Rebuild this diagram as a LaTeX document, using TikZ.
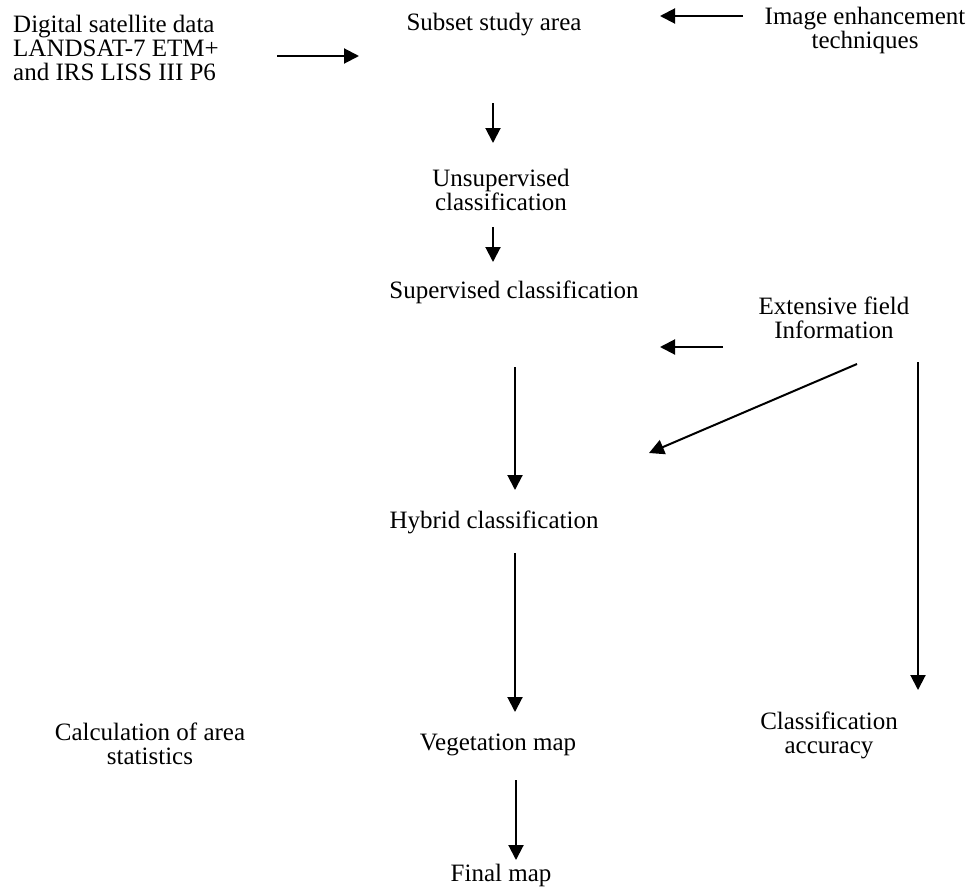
\documentclass[tikz,border=0pt]{standalone}
\usepackage{fontspec}
\setmainfont{Liberation Serif}
\usetikzlibrary{arrows.meta}
\tikzstyle{txt}=[align=center,inner sep=0pt,font=\fontsize{25}{24}\selectfont]
\tikzstyle{to}=[-{Triangle[length=15pt,width=15pt]},line width=2pt]

\begin{document}
\begin{tikzpicture}[x=1pt,y=-1pt]
    \useasboundingbox (0,0) rectangle (974,889);
        % texts
        \node[txt,align=left,anchor=west] (data) at (13,48) {Digital satellite data\\LANDSAT-7 ETM+\\and IRS LISS III P6};
        \node[txt] (subset) at (494,25) {Subset study area};
        \node[txt] (enhance) at (865,30) {Image enhancement\\techniques};
        \node[txt] (unsup) at (501,190) {Unsupervised\\classification};
        \node[txt] (sup) at (514,292) {Supervised classification};
        \node[txt] (field) at (834,318) {Extensive field\\Information};
        \node[txt] (hybrid) at (494,522) {Hybrid classification};
        \node[txt] (calc) at (150,744) {Calculation of area\\statistics};
        \node[txt] (veg) at (498,745) {Vegetation map};
        \node[txt] (acc) at (829,735) {Classification\\accuracy};
        \node[txt] (final) at (501,875) {Final map};

        % arrows
        \coordinate (subsetin) at (359,56);
        \coordinate (dataout) at (277,56)
            edge[to] (subsetin)
        ;
        \coordinate (enhancein) at (660,16);
        \coordinate (enhanceout) at (743,16)
            edge[to] (enhancein)
        ;
        \coordinate (unsupin) at (493,143);
        \coordinate (subsetout) at (493,103)
            edge[to] (unsupin)
        ;
        \coordinate (supin) at (493,262);
        \coordinate (unsupout) at (493,227)
            edge[to] (supin)
        ;
        \coordinate (fieldin) at (660,347);
        \coordinate (fieldout) at (723,347)
            edge[to] (fieldin)
        ;
        \coordinate (hybridin) at (515,490);
        \coordinate (supout) at (515,367)
            edge[to] (hybridin)
        ;
        \coordinate (diagin) at (649,453);
        \coordinate (diagout) at (857,364)
            edge[to] (diagin)
        ;
        \coordinate (accin) at (918,690);
        \coordinate (accout) at (918,362)
            edge[to] (accin)
        ;
        \coordinate (vegin) at (515,712);
        \coordinate (hybridout) at (515,553)
            edge[to] (vegin)
        ;
        \coordinate (finalin) at (516,860);
        \coordinate (vegout) at (516,780)
            edge[to] (finalin)
        ;
    \end{tikzpicture}
\end{document}
